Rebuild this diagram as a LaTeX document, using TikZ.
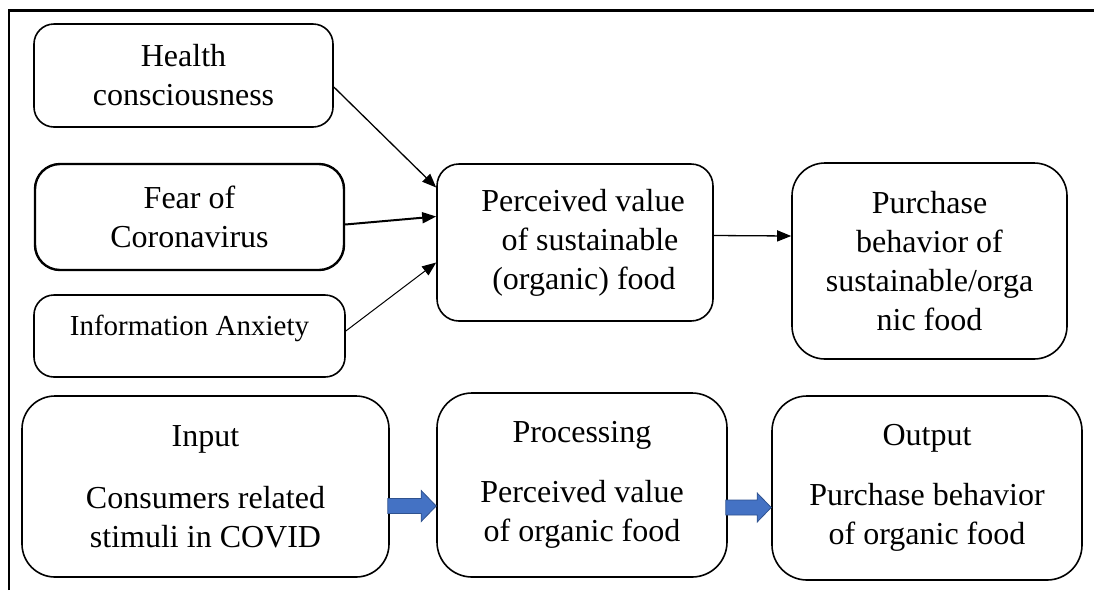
\documentclass[tikz,border=0pt]{standalone}
\usepackage{fontspec}
\setmainfont{LiberationSerif}[Extension=.ttf, UprightFont=*-Regular, BoldFont=*-Bold, ItalicFont=*-Italic, BoldItalicFont=*-BoldItalic]
\usetikzlibrary{arrows.meta,calc}
\definecolor{arrowblue}{HTML}{4472C4}
\definecolor{arrowedge}{HTML}{2F528F}
\begin{document}
\begin{tikzpicture}[x=1pt,y=-1pt,
  box/.style={draw, line width=1.6pt, align=center, inner sep=0pt,
    font=\rmfamily\fontsize{32}{39}\selectfont},
  link/.style={-{Triangle[length=14pt,width=11pt]}, line width=1.3pt},
  blockarrow/.style={fill=arrowblue, draw=arrowedge, line width=0.8pt}]
\useasboundingbox (0,0) rectangle (1094,590);
\fill[white] (0,0) rectangle (1094,590);
\draw[line width=2.5pt] (9,590) -- (9,10.5) -- (1094,10.5);

% top row
\node[box, rounded corners=20pt, minimum width=299pt, minimum height=103pt]
  (health) at (183.5,75.5) {Health\\consciousness};
\node[box, line width=2.4pt, rounded corners=25pt, minimum width=309pt, minimum height=106pt]
  (fear) at (189.5,217) {Fear of\\Coronavirus};
\node[box, rounded corners=20pt, minimum width=311pt, minimum height=82pt,
  font=\rmfamily\fontsize{29}{35}\selectfont, text height=20pt, text depth=22pt]
  (info) at (189.5,336) {Information Anxiety};
\node[box, rounded corners=22pt, minimum width=276pt, minimum height=157pt]
  (pv) at (575,242.5) {\hspace*{16pt}Perceived value\\\hspace*{30pt}of sustainable\\\hspace*{18pt}(organic) food};
\node[box, rounded corners=33pt, minimum width=275pt, minimum height=196pt]
  (pb) at (929.5,261) {Purchase\\behavior of\\sustainable/orga\\nic food};

% bottom row
\node[box, rounded corners=33pt, minimum width=367pt, minimum height=181pt]
  (input) at (205.5,486.5) {Input\\[23pt]Consumers related\\stimuli in COVID};
\node[box, rounded corners=35pt, minimum width=290pt, minimum height=184pt]
  (proc) at (582,485) {Processing\\[21pt]Perceived value\\of organic food};
\node[box, rounded corners=35pt, minimum width=310pt, minimum height=184pt]
  (out) at (927,488) {Output\\[21pt]Purchase behavior\\of organic food};

% connectors
\draw[link] ([yshift=-11.5pt]health.east) -- ([yshift=55pt]pv.west);
\draw[link, line width=2pt] ([yshift=-7.5pt]fear.east) -- ([yshift=26pt]pv.west);
\draw[link, line width=1pt] ([yshift=5pt]info.east) -- ([yshift=-20pt]pv.west);
\draw[link] ([yshift=7pt]pv.east) -- ([yshift=25pt]pb.west);

% block arrows
\coordinate (b1s) at (input.east |- 0,506);
\coordinate (b1e) at (proc.west |- 0,506);
\filldraw[blockarrow] ($(b1s)+(-2,-7.5)$) -- ($(b1e)+(-15,-7.5)$) -- ($(b1e)+(-15,-15.5)$)
  -- (b1e) -- ($(b1e)+(-15,15.5)$) -- ($(b1e)+(-15,7.5)$) -- ($(b1s)+(-2,7.5)$) -- cycle;
\coordinate (b2s) at (proc.east |- 0,507.5);
\coordinate (b2e) at (out.west |- 0,507.5);
\filldraw[blockarrow] ($(b2s)+(-2,-7.5)$) -- ($(b2e)+(-14,-7.5)$) -- ($(b2e)+(-14,-14.5)$)
  -- (b2e) -- ($(b2e)+(-14,14.5)$) -- ($(b2e)+(-14,7.5)$) -- ($(b2s)+(-2,7.5)$) -- cycle;
\end{tikzpicture}
\end{document}
